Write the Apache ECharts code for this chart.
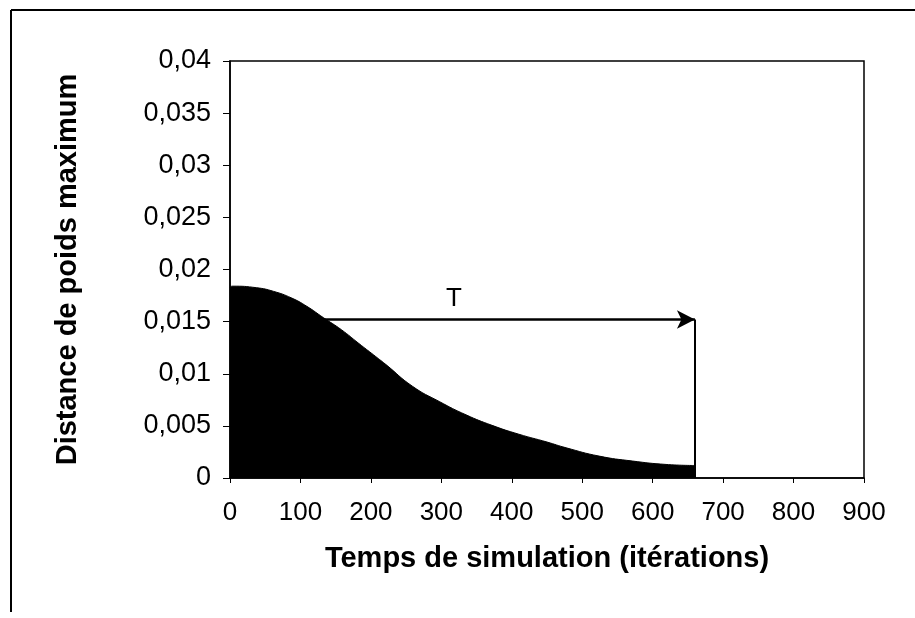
<!DOCTYPE html>
<html>
<head>
<meta charset="utf-8">
<script src="https://cdn.jsdelivr.net/npm/echarts@6/dist/echarts.min.js"></script>
<style>
  html, body { margin: 0; padding: 0; background: #fff; }
  #main { width: 915px; height: 618px; }
</style>
</head>
<body>
<div id="main"></div>
<script>
// iterations and max weight distance
const iterations = [0, 3, 38, 62, 87, 109, 133, 158, 183, 204, 221, 259, 297, 335, 372, 410, 450, 477, 524, 571, 619, 660];
const distances = [0.0183, 0.0184, 0.01825, 0.0179, 0.01728, 0.01647, 0.01536, 0.01423, 0.0129, 0.0118, 0.0109, 0.0088, 0.00734, 0.00606, 0.00505, 0.0042, 0.00345, 0.0029, 0.0021, 0.00163, 0.0013, 0.0012];

const xTicks = [0, 100, 200, 300, 400, 500, 600, 700, 800, 900];
const yTicks = ['0', '0,005', '0,01', '0,015', '0,02', '0,025', '0,03', '0,035', '0,04'];

// the T arrow: from the curve to the end of the simulation
const arrowStart = 130;
const arrowEnd = 660;
const arrowLevel = 0.0152;
const labelAt = 318;

window.addEventListener('load', function () {
    let chart = echarts.init(document.getElementById('main'));
    let font = 'Liberation Sans, Arial, sans-serif';

    let points = iterations.map((it, i) => [it, distances[i]]);

    let option = {
        backgroundColor: '#fff',
        animation: false,
        grid: {
            left: 230, right: 51, top: 61, bottom: 140,
            show: true, borderColor: '#000', borderWidth: 1.5
        },
        graphic: [
            { type: 'line', shape: { x1: 11, y1: 10, x2: 915, y2: 10 }, style: { stroke: '#000', lineWidth: 2 } },
            { type: 'line', shape: { x1: 11, y1: 10, x2: 11, y2: 612 }, style: { stroke: '#000', lineWidth: 2 } }
        ],
        xAxis: {
            type: 'value',
            min: 0, max: 900, interval: 100,
            name: 'Temps de simulation (itérations)',
            nameLocation: 'middle',
            nameGap: 66,
            nameTextStyle: { fontFamily: font, fontWeight: 'bold', fontSize: 29, color: '#000' },
            axisLine: { show: true, lineStyle: { color: '#000', width: 1.5 } },
            axisTick: { show: true, length: 5, lineStyle: { color: '#000' } },
            axisLabel: {
                margin: 22, color: '#000', fontFamily: font, fontSize: 26,
                formatter: v => String(xTicks[Math.round(v / 100)])
            },
            splitLine: { show: false }
        },
        yAxis: {
            type: 'value',
            min: 0, max: 0.04, interval: 0.005,
            name: 'Distance de poids maximum',
            nameLocation: 'middle',
            nameGap: 148,
            nameTextStyle: { fontFamily: font, fontWeight: 'bold', fontSize: 29, color: '#000' },
            axisLine: { show: true, lineStyle: { color: '#000', width: 1.5 } },
            axisTick: { show: true, length: 7, lineStyle: { color: '#000' } },
            axisLabel: {
                margin: 19, color: '#000', fontFamily: font, fontSize: 27,
                formatter: v => yTicks[Math.round(v / 0.005)]
            },
            splitLine: { show: false }
        },
        series: [{
            type: 'line',
            data: points,
            smooth: 0.5,
            showSymbol: false,
            lineStyle: { color: '#000', width: 1 },
            areaStyle: { color: '#000', opacity: 1 },
            markLine: {
                silent: true,
                symbol: ['none', 'none'],
                label: { show: false },
                lineStyle: { color: '#000', width: 2.5, type: 'solid' },
                data: [
                    [{ coord: [arrowStart, arrowLevel], symbol: 'none' },
                     { coord: [arrowEnd, arrowLevel], symbol: 'arrow', symbolSize: [14, 18] }],
                    [{ coord: [arrowEnd, 0], lineStyle: { width: 2 } },
                     { coord: [arrowEnd, arrowLevel] }]
                ]
            },
            markPoint: {
                silent: true,
                symbol: 'circle',
                symbolSize: 0,
                data: [{
                    coord: [labelAt, arrowLevel],
                    label: {
                        show: true, formatter: 'T', position: 'top', distance: 8,
                        color: '#000', fontFamily: font, fontSize: 26
                    }
                }]
            }
        }]
    };
    chart.setOption(option);
});
</script>
</body>
</html>
